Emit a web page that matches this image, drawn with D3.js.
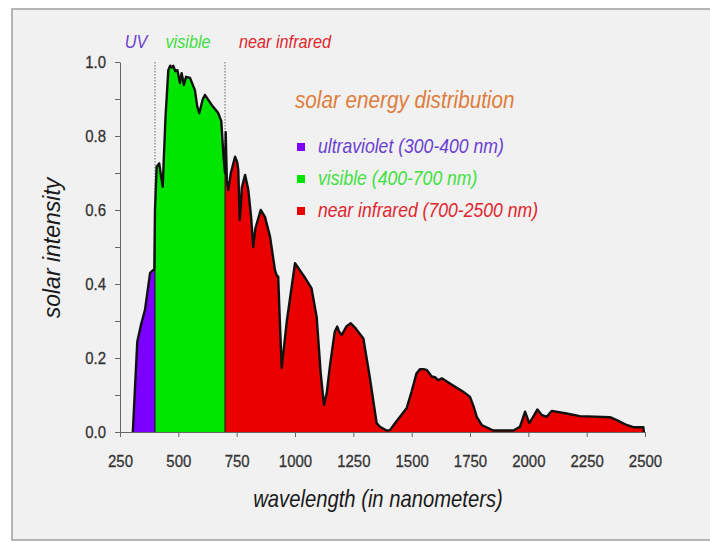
<!DOCTYPE html>
<html>
<head>
<meta charset="utf-8">
<script src="https://cdn.jsdelivr.net/npm/d3@7"></script>
<style>
  html, body { margin: 0; padding: 0; background: #ffffff; }
  svg { display: block; }
</style>
</head>
<body>
<svg id="chart" width="710" height="550"></svg>
<script>
// ---------------- DATA ----------------
const wavelengths = [
  305, 324, 340, 357, 379, 393, 397,
  400, 407, 418, 424, 433, 445, 457, 465, 472, 478, 487, 496, 507, 514, 524, 533, 550, 571, 581, 590, 605, 614, 643, 671, 684, 693,
  700, 703, 708, 714, 725, 743, 752, 757, 763, 767, 772, 786, 800, 812, 821, 830, 853, 871, 893, 914, 921, 928, 935, 943, 965,
  1000, 1040, 1071, 1093, 1110, 1124, 1130, 1136, 1150, 1170, 1181, 1190, 1200, 1220, 1239, 1260, 1293, 1320, 1350, 1364, 1393,
  1407, 1430, 1450, 1479, 1500, 1521, 1536, 1550, 1564, 1586, 1600, 1614, 1629, 1664, 1721, 1750, 1765, 1779, 1800, 1850,
  1936, 1964, 1986, 2004, 2020, 2039, 2057, 2079, 2100, 2164, 2221, 2350, 2379, 2421, 2450, 2493, 2495
];
const intensity = [
  0.0, 0.244, 0.29, 0.33, 0.43, 0.438, 0.44,
  0.60, 0.717, 0.726, 0.70, 0.663, 0.85, 0.978, 0.99, 0.985, 0.99, 0.975, 0.978, 0.943, 0.97, 0.938, 0.96, 0.957, 0.924, 0.88, 0.862, 0.90, 0.911, 0.884, 0.862, 0.84, 0.75,
  0.70, 0.81, 0.68, 0.654, 0.70, 0.744, 0.73, 0.708, 0.573, 0.60, 0.66, 0.695, 0.654, 0.58, 0.50, 0.55, 0.60, 0.582, 0.528, 0.438, 0.424, 0.42, 0.30, 0.173, 0.30,
  0.456, 0.42, 0.388, 0.31, 0.16, 0.073, 0.09, 0.105, 0.18, 0.27, 0.285, 0.27, 0.262, 0.285, 0.294, 0.28, 0.253, 0.15, 0.024, 0.014, 0.004,
  0.005, 0.025, 0.041, 0.065, 0.11, 0.159, 0.17, 0.17, 0.168, 0.15, 0.148, 0.14, 0.145, 0.131, 0.109, 0.095, 0.07, 0.041, 0.019, 0.004,
  0.004, 0.014, 0.055, 0.024, 0.04, 0.061, 0.046, 0.041, 0.057, 0.05, 0.043, 0.04, 0.032, 0.019, 0.013, 0.013, 0.0
];
const bandKeys    = ["UV", "visible", "near infrared"];
const bandStart   = [300, 400, 700];
const bandEnd     = [400, 700, 2500];
const legendLabels = ["ultraviolet (300-400 nm)", "visible (400-700 nm)", "near infrared (700-2500 nm)"];
const legendTitle = "solar energy distribution";
const xTicks = [250, 500, 750, 1000, 1250, 1500, 1750, 2000, 2250, 2500];
const yTicks = [0, 0.1, 0.2, 0.3, 0.4, 0.5, 0.6, 0.7, 0.8, 0.9, 1.0];
const yLabelTicks = [0, 0.2, 0.4, 0.6, 0.8, 1.0];
const xTitle = "wavelength (in nanometers)";
const yTitle = "solar intensity";

// ---------------- STYLE ----------------
const bandFill  = ["#7b00ff", "#00e600", "#ea0000"];
const bandText  = ["#6a3fd0", "#3fe03f", "#e0262e"];
const titleColor = "#e07d3c";
const FONT = "'Liberation Sans', Arial, Helvetica, sans-serif";
const SX = 0.88; // horizontal condensing of text

const svg = d3.select("#chart");

// background frame
svg.append("rect").attr("x", 0).attr("y", 0).attr("width", 710).attr("height", 550).attr("fill", "#ffffff");
svg.append("rect").attr("x", 12).attr("y", 9).attr("width", 710).attr("height", 531)
  .attr("fill", "#f1f1f1").attr("stroke", "#b4b4b4").attr("stroke-width", 2);

const x = d3.scaleLinear().domain([250, 2500]).range([120, 645]);
const y = d3.scaleLinear().domain([0, 1]).range([432, 62]);

const pts = wavelengths.map((w, i) => ({ w, v: intensity[i] }));

// dotted band separators
[bandStart[1], bandStart[2]].forEach(b => {
  svg.append("line")
    .attr("x1", x(b)).attr("x2", x(b))
    .attr("y1", y(1)).attr("y2", y(0))
    .attr("stroke", "#666").attr("stroke-width", 1)
    .attr("stroke-dasharray", "1.5,1.5");
});

// filled bands
const area = d3.area().x(d => x(d.w)).y0(y(0)).y1(d => y(d.v));
bandKeys.forEach((k, i) => {
  const seg = pts.filter(p => p.w >= bandStart[i] && p.w <= bandEnd[i]);
  svg.append("path").datum(seg).attr("d", area).attr("fill", bandFill[i]).attr("stroke", "none");
});

// band boundary strokes
[bandStart[1], bandStart[2]].forEach(b => {
  const p = pts.find(d => d.w === b);
  svg.append("line")
    .attr("x1", x(b)).attr("x2", x(b))
    .attr("y1", y(0)).attr("y2", y(p.v))
    .attr("stroke", "#1a1a1a").attr("stroke-width", 1.3).attr("opacity", 0.8);
});

// outline
const line = d3.line().x(d => x(d.w)).y(d => y(d.v));
svg.append("path").datum(pts).attr("d", line)
  .attr("fill", "none").attr("stroke", "#111").attr("stroke-width", 2.4)
  .attr("stroke-linejoin", "round");

// axes
const condense = sel => sel.selectAll("text").each(function () {
  const t = d3.select(this);
  const xx = +t.attr("x") || 0;
  t.attr("x", xx / SX).attr("transform", `scale(${SX},1)`);
});

const xAxis = svg.append("g").attr("transform", `translate(0,${y(0)})`)
  .call(d3.axisBottom(x).tickValues(xTicks).tickFormat(d3.format("d")).tickSize(5).tickSizeOuter(0).tickPadding(18));
const yAxis = svg.append("g").attr("transform", `translate(${x(250)},0)`)
  .call(d3.axisLeft(y).tickValues(yTicks)
    .tickFormat(d => yLabelTicks.some(t => Math.abs(t - d) < 1e-9) ? d3.format(".1f")(d) : "")
    .tickSize(5).tickSizeOuter(0).tickPadding(9));
[xAxis, yAxis].forEach(a => {
  a.selectAll("path").attr("stroke", "#666");
  a.selectAll("line").attr("stroke", "#666");
  a.selectAll("text").attr("font-family", FONT).attr("font-size", 17).attr("fill", "#333")
    .attr("stroke", "#333").attr("stroke-width", 0.3);
  condense(a);
});

// text helper (condensed horizontally)
function label(px, py, str, size, color, anchor) {
  svg.append("g").attr("transform", `translate(${px},${py}) scale(${SX},1)`)
    .append("text").attr("x", 0).attr("y", 0)
    .attr("text-anchor", anchor || "start")
    .attr("font-family", FONT).attr("font-style", "italic")
    .attr("font-size", size).attr("fill", color).text(str);
}

// top band labels
label(136, 48, bandKeys[0], 18.5, bandText[0], "middle");
label(188, 48, bandKeys[1], 18.5, bandText[1], "middle");
label(285, 48, bandKeys[2], 18.5, bandText[2], "middle");

// legend
label(295, 108, legendTitle, 23.5, titleColor, "start");
legendLabels.forEach((s, i) => {
  const cy = 147 + i * 32;
  svg.append("rect").attr("x", 297).attr("y", cy - 4).attr("width", 8).attr("height", 8).attr("fill", bandFill[i]);
  label(318, cy + 6, s, 20, bandText[i], "start");
});

// axis titles
label(378, 507, xTitle, 23, "#1a1a1a", "middle");
svg.append("text")
  .attr("transform", "translate(60,248) rotate(-90)")
  .attr("text-anchor", "middle")
  .attr("font-family", FONT).attr("font-style", "italic")
  .attr("font-size", 23).attr("fill", "#1a1a1a").text(yTitle);
</script>
</body>
</html>
